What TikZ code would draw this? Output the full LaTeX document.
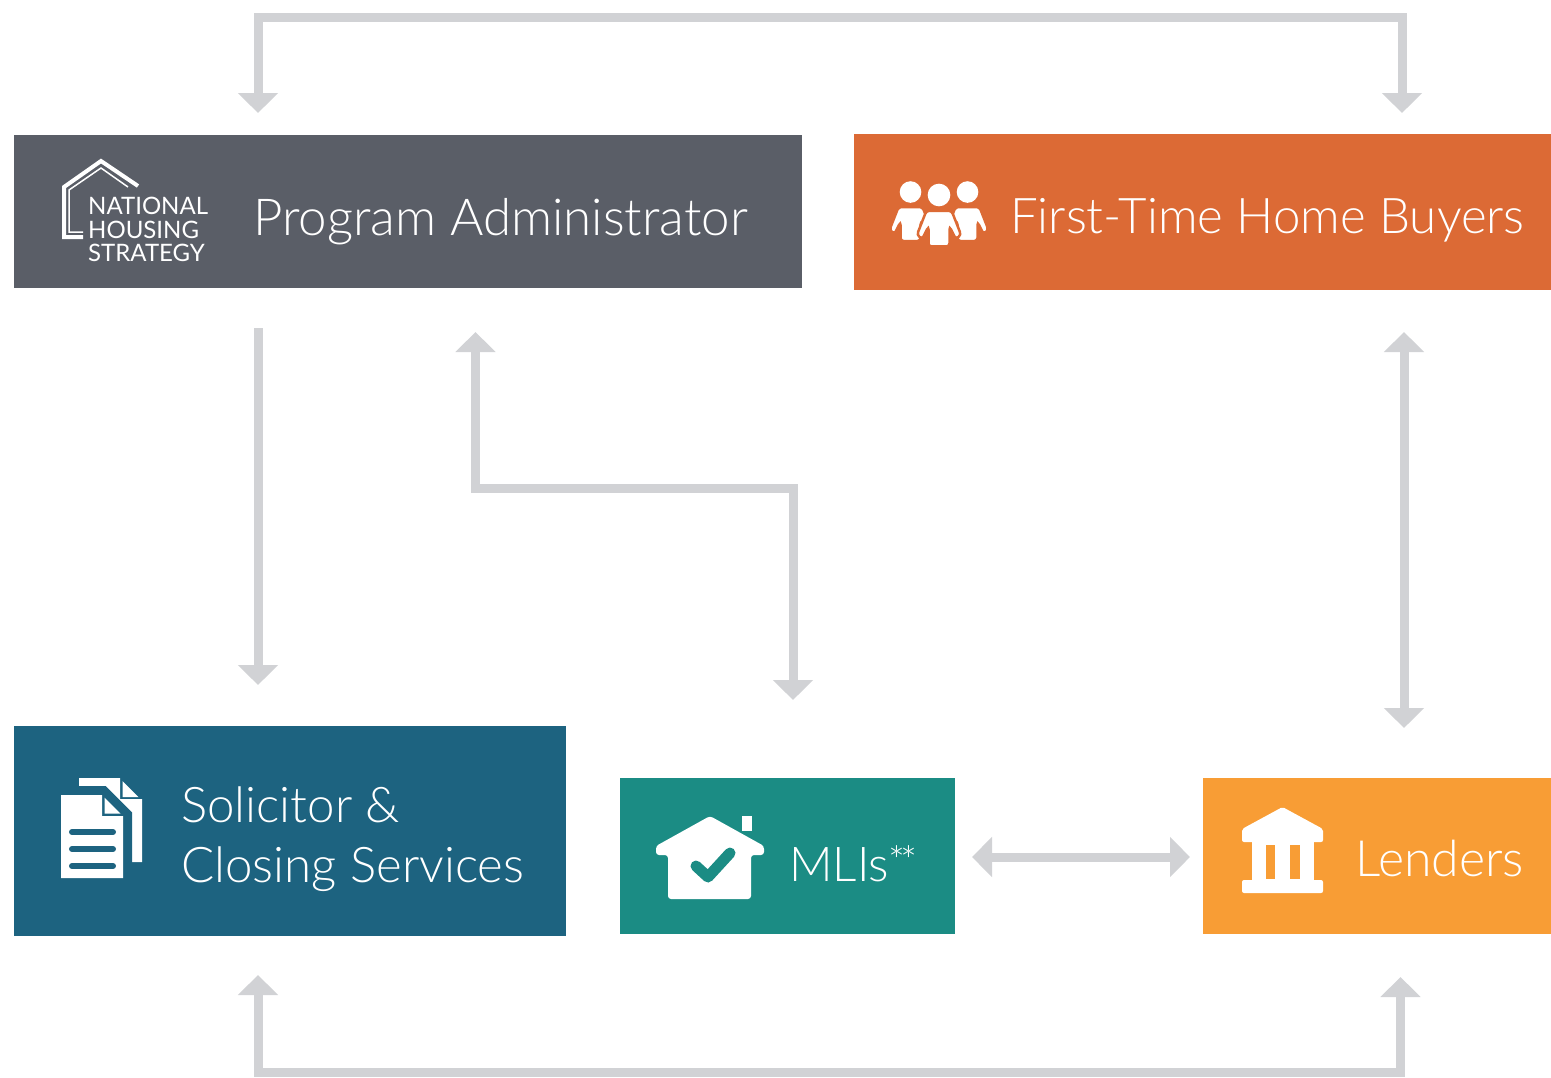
\documentclass[tikz,border=0pt]{standalone}
\usepackage{fontspec}
\setmainfont{Lato}[UprightFont={* Light}]
\newfontfamily\nhsfont{Lato}
\usetikzlibrary{arrows.meta}
\definecolor{pacol}{HTML}{5A5E67}
\definecolor{ftcol}{HTML}{DC6A35}
\definecolor{solcol}{HTML}{1D6380}
\definecolor{mlicol}{HTML}{1B8C84}
\definecolor{lencol}{HTML}{F89D35}
\definecolor{conncol}{HTML}{D1D2D5}
\begin{document}
\begin{tikzpicture}[x=1pt,y=-1pt,
  >={Triangle[length=20pt,width=39pt]},
  box/.style={rectangle, inner sep=0pt, outer sep=0pt, draw=none, anchor=north west},
  conn/.style={draw=conncol, line width=9pt, line join=miter},
  lbl/.style={text=white, inner sep=0pt, anchor=base west, font=\fontsize{50}{60}\selectfont},
  nhs/.style={text=white, inner sep=0pt, anchor=base west, font=\nhsfont\fontsize{24}{24}\selectfont},
  person/.pic={
    \fill[white] (0,0) circle (10.8pt);
    \filldraw[draw=ftcol, line width=2.5pt, fill=white, rounded corners=3pt]
      (-12,15) -- (12,15) -- (21,38) -- (16,42) -- (10,30) -- (10,49) -- (-10,49) -- (-10,30) -- (-16,42) -- (-21,38) -- cycle;
  }
]
\useasboundingbox (0,0) rectangle (1551,1077);

% boxes
\node[box, fill=pacol, minimum width=788pt, minimum height=153pt] (pa) at (14,135) {};
\node[box, fill=ftcol, minimum width=697pt, minimum height=156pt] (fthb) at (854,134) {};
\node[box, fill=solcol, minimum width=552pt, minimum height=210pt] (sol) at (14,726) {};
\node[box, fill=mlicol, minimum width=335pt, minimum height=156pt] (mli) at (620,778) {};
\node[box, fill=lencol, minimum width=348pt, minimum height=156pt] (len) at (1203,778) {};

% helper coordinates
\coordinate (xL) at (258,0);
\coordinate (xR) at (1402,0);
\coordinate (xRb) at (1400.5,0);
\coordinate (xA) at (475.5,0);
\coordinate (xM) at (793,0);
\coordinate (xV) at (1404,0);
\coordinate (yT) at (0,17.5);
\coordinate (yM) at (0,488.5);
\coordinate (yB) at (0,1072.5);
\coordinate (yH) at (0,857);

% connectors
\draw[conn,<->, shorten <=22pt, shorten >=21pt] (pa.north -| xL) -- (yT -| xL) -- (yT -| xR) -- (fthb.north -| xR);
\draw[conn,->, shorten <=40pt, shorten >=41pt] (pa.south -| xL) -- (sol.north -| xL);
\draw[conn,<->, shorten <=44pt, shorten >=78pt] (pa.south -| xA) -- (yM -| xA) -- (yM -| xM) -- (mli.north -| xM);
\draw[conn,<->, shorten <=42pt, shorten >=50pt] (fthb.south -| xV) -- (len.north -| xV);
\draw[conn,<->, shorten <=17pt, shorten >=13pt] (mli.east |- yH) -- (len.west |- yH);
\draw[conn,<->, shorten <=39pt, shorten >=43pt] (sol.south -| xL) -- (yB -| xL) -- (yB -| xRb) -- (len.south -| xRb);

% labels
\node[lbl, font=\fontsize{51}{60}\selectfont] (tpa) at (253,235) {Program Administrator};
\node[lbl, font=\fontsize{49.2}{60}\selectfont] (tft) at (1010,233) {First-Time Home Buyers};
\node[lbl, font=\fontsize{49.2}{60}\selectfont] (tsol1) at (181,822) {Solicitor \&};
\node[lbl, font=\fontsize{49.2}{60}\selectfont] (tsol2) at (181,882) {Closing Services};
\node[lbl, font=\fontsize{48}{60}\selectfont] (tmli) at (789,881) {MLIs\kern-1pt{\fontsize{40}{40}\selectfont\raisebox{6pt}{*\kern-5pt*}}};
\node[lbl] (tlen) at (1355,876) {Lenders};

% national housing strategy logo
\draw[white, line width=4pt, line join=miter] (83,237) -- (64,237) -- (64,187) -- (101,161) -- (138,186);
\draw[white, line width=1.5pt, line join=miter] (83,232) -- (69,232) -- (69,190) -- (101,168) -- (128,187);
\node[nhs] (n1) at (88,214) {NATIONAL};
\node[nhs] (n2) at (88,238) {HOUSING};
\node[nhs] (n3) at (88,261) {STRATEGY};

% people icon
\pic at (910.5,192) {person};
\pic at (967.5,192) {person};
\pic[scale=1.05] at (939,195) {person};

% document icon
\fill[white] (79,778) -- (120,778) -- (120,799) -- (142,799) -- (142,862) -- (79,862) -- cycle;
\fill[white] (122.5,781) -- (122.5,797) -- (138.5,797) -- cycle;
\filldraw[solcol, line width=18pt, line join=miter] (61,795) -- (102,795) -- (123,816) -- (123,878) -- (61,878) -- cycle;
\fill[white] (61,795) -- (102,795) -- (102,816) -- (123,816) -- (123,878) -- (61,878) -- cycle;
\fill[white] (104.5,797.5) -- (104.5,813.5) -- (120.5,813.5) -- cycle;
\foreach \yy in {832,849,866} \draw[solcol, line width=6pt, line cap=round] (72,\yy) -- (113,\yy);

% MLI house icon
\fill[white] (741.5,816) rectangle (752,831);
\fill[white, rounded corners=3pt] (710,816) -- (764,846) -- (764,855) -- (751,855) -- (751,899) -- (668,899) -- (668,855) -- (656,855) -- (656,846) -- cycle;
\draw[mlicol, line width=11pt, line cap=round, line join=round] (696,866) -- (708,877) -- (730,853);

% bank icon
\fill[white, rounded corners=2pt] (1242,829) -- (1282.5,807) -- (1323,829) -- (1323,842) -- (1242,842) -- cycle;
\fill[white] (1252,840) rectangle (1314,882);
\fill[lencol] (1266,845) rectangle (1275,879);
\fill[lencol] (1290,845) rectangle (1300,879);
\fill[white, rounded corners=2pt] (1242,880) rectangle (1323,893);
\end{tikzpicture}
\end{document}
